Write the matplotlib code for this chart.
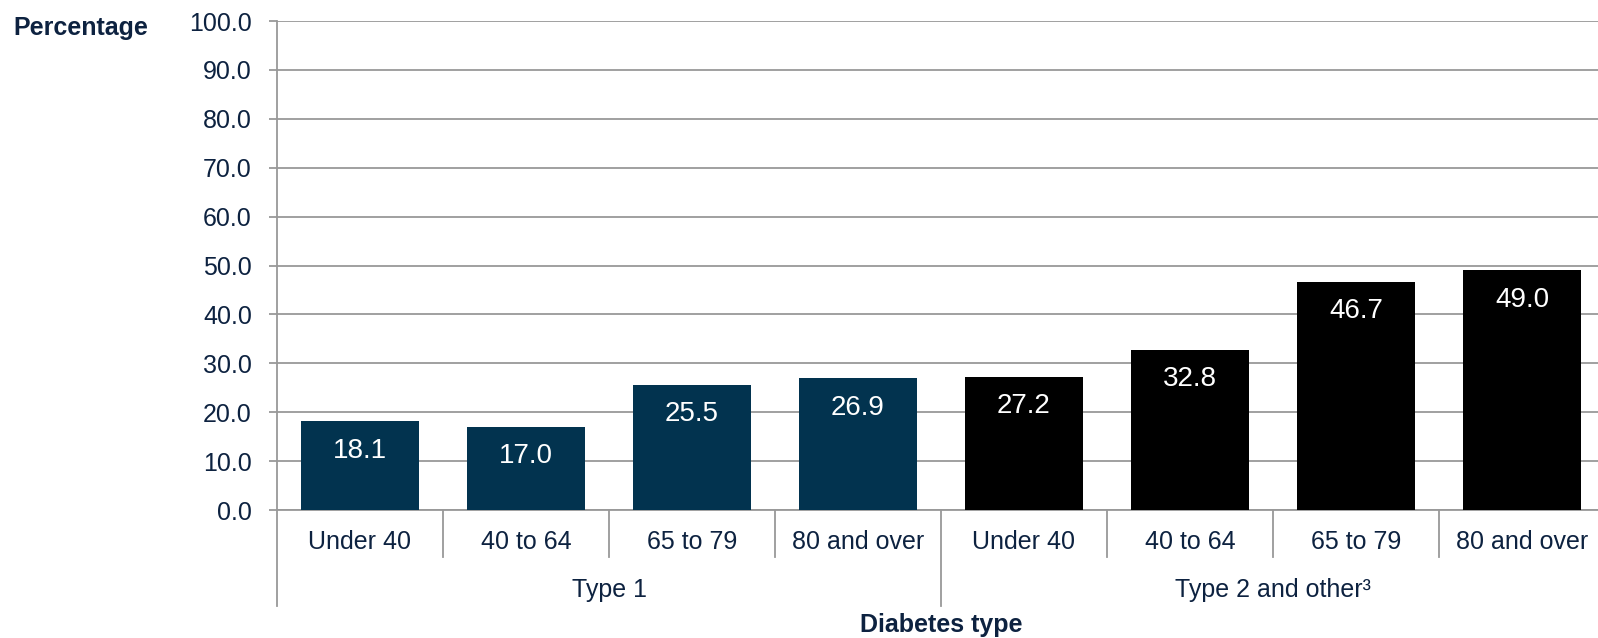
import matplotlib
matplotlib.use("Agg")
import matplotlib.pyplot as plt
import matplotlib.transforms as mtransforms

# data
groups = ["Type 1", "Type 2 and other³"]
ages = ["Under 40", "40 to 64", "65 to 79", "80 and over"]
type1 = [18.1, 17.0, 25.5, 26.9]
type2 = [27.2, 32.8, 46.7, 49.0]
yticks = [0, 10, 20, 30, 40, 50, 60, 70, 80, 90, 100]

navy = "#02334f"
txt = "#0d2240"
grid_col = "#999999"

plt.rcParams['font.family'] = ['Liberation Sans', 'DejaVu Sans']

W, H = 1598, 638
fig = plt.figure(figsize=(W / 100, H / 100), dpi=100)
# axes: left 277px, bottom 510px, top 21px, 166px per category (runs off the right edge)
ax = fig.add_axes([277 / W, (H - 510) / H, 166 * 8 / W, 489 / H])

vals = type1 + type2
cols = [navy] * 4 + ["#000000"] * 4
xs = list(range(len(vals)))
bars = ax.bar(xs, vals, width=0.71, color=cols, zorder=3)

for x, v in zip(xs, vals):
    ax.annotate("%.1f" % v, (x, v), xytext=(0, -21), textcoords="offset points",
                ha="center", va="center", color="white", fontsize=20, zorder=4)

ax.set_xlim(-0.5, 7.5)
ax.set_ylim(0, 100)
ax.set_yticks(yticks)
ax.set_yticklabels(["%.1f" % t for t in yticks], fontsize=18, color=txt)
ax.tick_params(axis="y", length=6, width=1.3, color=grid_col, pad=12)
ax.set_xticks([])
ax.yaxis.grid(True, color=grid_col, linewidth=1.3, zorder=0)

for s in ["top", "right"]:
    ax.spines[s].set_visible(False)
for s in ["left", "bottom"]:
    ax.spines[s].set_color(grid_col)
    ax.spines[s].set_linewidth(1.3)

trans = mtransforms.blended_transform_factory(ax.transData, ax.transAxes)

# category labels and separators
for i in range(8):
    ax.text(i, -0.0654, ages[i % 4], transform=trans, ha="center", va="center",
            fontsize=18, color=txt)
for b in range(1, 8):
    if b == 4:
        continue
    ax.plot([b - 0.5, b - 0.5], [0, -0.0961], transform=trans, color=grid_col,
            lw=1.3, clip_on=False)
for b in [0, 4, 8]:
    ax.plot([b - 0.5, b - 0.5], [0, -0.1963], transform=trans, color=grid_col,
            lw=1.3, clip_on=False)

# group labels
for g, name in enumerate(groups):
    ax.text(g * 4 + 1.5, -0.1636, name, transform=trans, ha="center", va="center",
            fontsize=18, color=txt)

fig.text(941 / W, (H - 625) / H, "Diabetes type", ha="center", va="center",
         fontsize=18, fontweight="bold", color=txt)
fig.text(13 / W, (H - 28) / H, "Percentage", ha="left", va="center",
         fontsize=18, fontweight="bold", color=txt)

fig.savefig("out.png", dpi=100, facecolor="white")
